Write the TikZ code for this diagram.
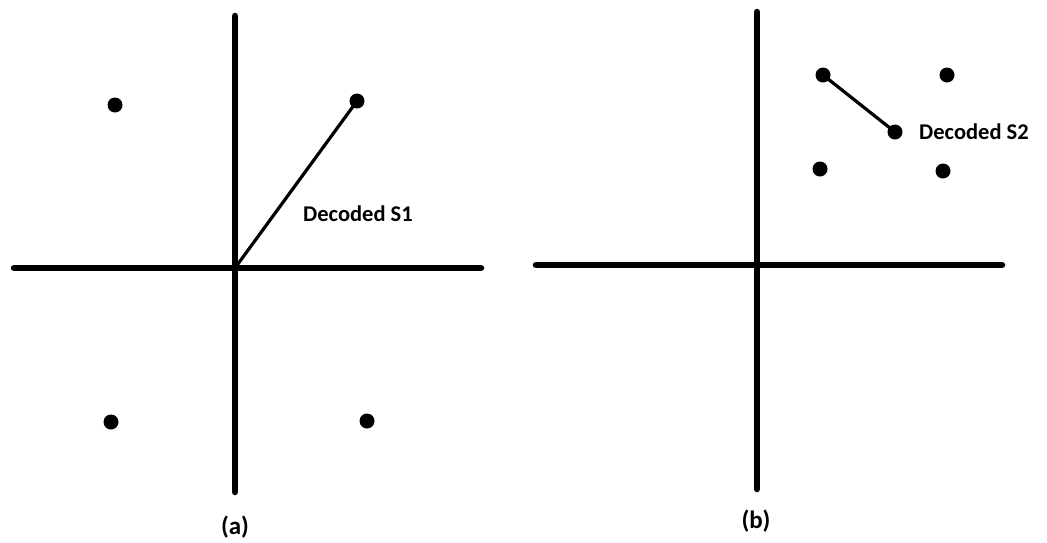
\documentclass[tikz,border=0pt]{standalone}
\usepackage{fontspec}
\setmainfont{Carlito}
\begin{document}
\begin{tikzpicture}[x=1pt,y=-1pt,
  axis/.style={line width=6.5pt,line cap=round},
  vec/.style={line width=3.2pt},
  pt/.style={circle,fill=black,inner sep=0pt,minimum size=15pt},
  lbl/.style={font=\fontsize{22.5}{26}\selectfont\bfseries,inner sep=0pt},
  caplbl/.style={font=\fontsize{25}{30}\selectfont\bfseries,inner sep=0pt}]
\useasboundingbox (0,0) rectangle (1047,542);
% panel (a)
\coordinate (aT) at (235,16);
\coordinate (aB) at (235,492);
\coordinate (aL) at (14,268);
\coordinate (aR) at (481,268);
\coordinate (aO) at (235,268);
\draw[axis] (aT) -- (aB);
\draw[axis] (aL) -- (aR);
\node[pt] (a1) at (115,105) {};
\node[pt] (a2) at (357,101) {};
\node[pt] (a3) at (111,422) {};
\node[pt] (a4) at (367,421) {};
\draw[vec] (aO) -- (a2.center);
\node[lbl,anchor=west] (s1) at (303,214) {Decoded S1};
\node[caplbl] (ca) at (235,527) {(a)};
% panel (b)
\coordinate (bT) at (757,12);
\coordinate (bB) at (757,489);
\coordinate (bL) at (536,265);
\coordinate (bR) at (1002,265);
\draw[axis] (bT) -- (bB);
\draw[axis] (bL) -- (bR);
\node[pt] (b1) at (823,75) {};
\node[pt] (b2) at (947,75) {};
\node[pt] (b3) at (895,132) {};
\node[pt] (b4) at (820,169) {};
\node[pt] (b5) at (943,171) {};
\draw[vec] (b1.center) -- (b3.center);
\node[lbl,anchor=west] (s2) at (919,132) {Decoded S2};
\node[caplbl] (cb) at (756,521) {(b)};
\end{tikzpicture}
\end{document}
